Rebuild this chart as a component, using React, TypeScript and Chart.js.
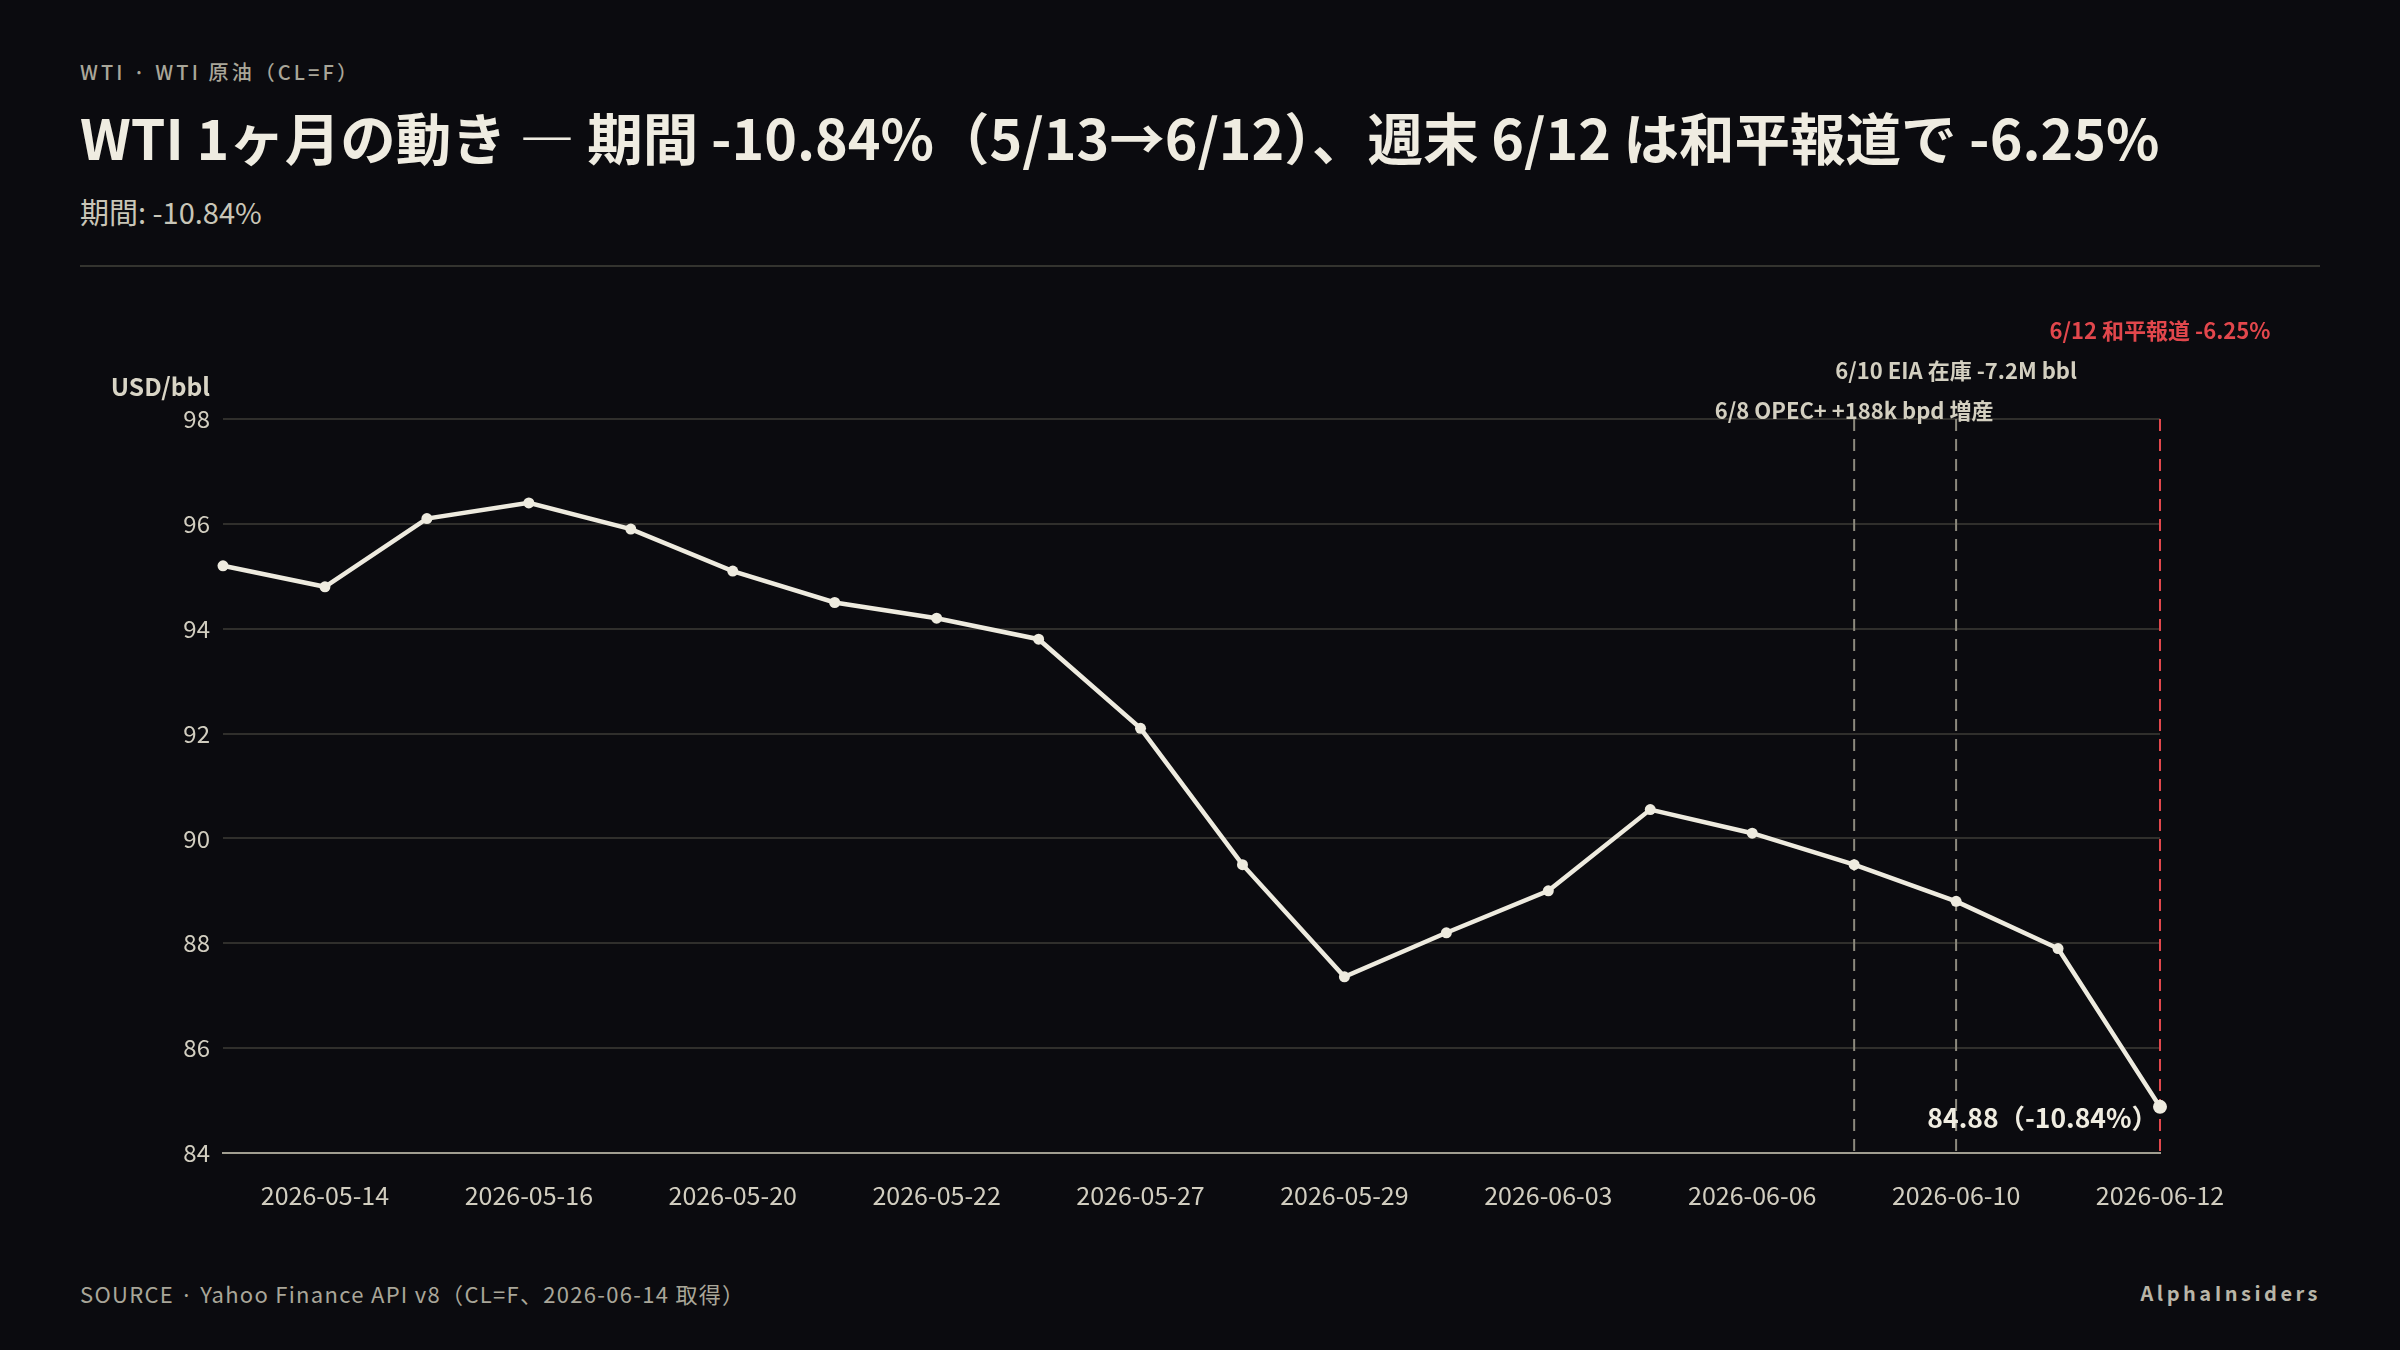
import React, { useEffect, useRef } from "react";
import { Chart, registerables } from "chart.js";

Chart.register(...registerables);

const FONT = '"Noto Sans CJK JP", "Noto Sans", sans-serif';

// dates (trading days) and WTI close, USD/bbl
const dates = [
  "2026-05-13", "2026-05-14", "2026-05-15", "2026-05-16", "2026-05-19",
  "2026-05-20", "2026-05-21", "2026-05-22", "2026-05-26", "2026-05-27",
  "2026-05-28", "2026-05-29", "2026-06-02", "2026-06-03", "2026-06-04",
  "2026-06-06", "2026-06-08", "2026-06-10", "2026-06-11", "2026-06-12",
];
const closes = [
  95.2, 94.8, 96.1, 96.4, 95.9, 95.1, 94.5, 94.2, 93.8, 92.1,
  89.5, 87.36, 88.2, 89.0, 90.55, 90.1, 89.5, 88.8, 87.9, 84.88,
];
const yTicks = [84, 86, 88, 90, 92, 94, 96, 98];

// event markers
const eventDates = ["2026-06-08", "2026-06-10", "2026-06-12"];
const eventLabels = ["6/8 OPEC+ +188k bpd 増産", "6/10 EIA 在庫 -7.2M bbl", "6/12 和平報道 -6.25%"];
const eventColors = ["#8c897d", "#8c897d", "#e2474c"];
const eventTextColors = ["#d3cfc0", "#d3cfc0", "#e2474c"];

const lastLabel = "84.88（-10.84%）";

const annotations = {
  id: "annotations",
  beforeDatasetsDraw(chart) {
    const { ctx, chartArea, scales } = chart;
    ctx.save();
    ctx.lineWidth = 2;
    ctx.setLineDash([12, 8]);
    eventDates.forEach((d, i) => {
      const x = scales.x.getPixelForValue(dates.indexOf(d));
      ctx.strokeStyle = eventColors[i];
      ctx.beginPath();
      ctx.moveTo(x, chartArea.top);
      ctx.lineTo(x, chartArea.bottom);
      ctx.stroke();
    });
    ctx.restore();
  },
  afterDatasetsDraw(chart) {
    const { ctx, chartArea, scales } = chart;
    ctx.save();
    ctx.font = `bold 22px ${FONT}`;
    ctx.textAlign = "center";
    ctx.textBaseline = "middle";
    eventDates.forEach((d, i) => {
      const x = scales.x.getPixelForValue(dates.indexOf(d));
      ctx.fillStyle = eventTextColors[i];
      ctx.fillText(eventLabels[i], x, chartArea.top - 8 - i * 40);
    });

    // unit label
    ctx.font = `bold 24.5px ${FONT}`;
    ctx.textAlign = "right";
    ctx.fillStyle = "#d9d5c6";
    ctx.fillText("USD/bbl", 210, chartArea.top - 32);

    // last value label
    const li = closes.length - 1;
    const lx = scales.x.getPixelForValue(li);
    const ly = scales.y.getPixelForValue(closes[li]);
    ctx.font = `bold 26.5px ${FONT}`;
    ctx.fillStyle = "#f0ede1";
    ctx.fillText(lastLabel, lx - 2, ly + 11);
    ctx.restore();
  },
};

const WtiChart = () => {
  const canvasRef = useRef(null);

  useEffect(() => {
    const chart = new Chart(canvasRef.current.getContext("2d"), {
      type: "line",
      data: {
        labels: dates,
        datasets: [
          {
            data: closes,
            borderColor: "#eeebdf",
            backgroundColor: "#eeebdf",
            borderWidth: 4.5,
            pointRadius: closes.map((_, i) => (i === closes.length - 1 ? 7 : 5.5)),
            pointBorderWidth: 0,
            tension: 0,
            clip: false,
          },
        ],
      },
      options: {
        animation: false,
        responsive: true,
        maintainAspectRatio: false,
        devicePixelRatio: 1,
        layout: { padding: { left: 0, right: 240, top: 119, bottom: 0 } },
        plugins: { legend: { display: false }, tooltip: { enabled: false } },
        scales: {
          x: {
            offset: false,
            grid: { display: false, drawTicks: false },
            border: { display: true, color: "#a19e91", width: 2 },
            ticks: {
              autoSkip: false,
              maxRotation: 0,
              padding: 27,
              color: "#d2cec0",
              font: { family: FONT, size: 25 },
              callback: (_v, i) => (i % 2 === 1 ? dates[i] : null),
            },
            afterFit: (s) => {
              s.height = 97;
            },
          },
          y: {
            min: yTicks[0],
            max: yTicks[yTicks.length - 1],
            afterBuildTicks: (s) => {
              s.ticks = yTicks.map((v) => ({ value: v }));
            },
            grid: { color: "#302f2c", lineWidth: 2, drawTicks: false },
            border: { display: false },
            ticks: {
              padding: 13,
              color: "#d2cec0",
              font: { family: FONT, size: 24 },
            },
            afterFit: (s) => {
              s.width = 223;
            },
          },
        },
      },
      plugins: [annotations],
    });
    return () => chart.destroy();
  }, []);

  return (
    <div style={{ position: "absolute", left: 0, top: 300, width: 2400, height: 950 }}>
      <canvas ref={canvasRef} />
    </div>
  );
};

export default function App() {
  useEffect(() => {
    document.body.style.margin = "0";
    document.body.style.background = "#0b0b0f";
  }, []);

  return (
    <div
      style={{
        position: "relative",
        width: 2400,
        height: 1350,
        background: "#0b0b0f",
        fontFamily: FONT,
        overflow: "hidden",
      }}
    >
      <div style={{ position: "absolute", left: 80, top: 57, fontSize: 20, letterSpacing: 3.1, color: "#a9a699", fontWeight: 500 }}>
        WTI · WTI 原油（CL=F）
      </div>
      <div style={{ position: "absolute", left: 80, top: 96, fontSize: 55.5, fontWeight: 700, color: "#efece1", whiteSpace: "nowrap", lineHeight: "80px" }}>
        WTI 1ヶ月の動き ― 期間 -10.84%（5/13→6/12）、週末 6/12 は和平報道で -6.25%
      </div>
      <div style={{ position: "absolute", left: 80, top: 190, fontSize: 29, color: "#c9c6b8" }}>期間: -10.84%</div>
      <div style={{ position: "absolute", left: 80, top: 265, width: 2240, height: 2, background: "#34342f" }} />
      <WtiChart />
      <div style={{ position: "absolute", left: 80, top: 1277, fontSize: 22, letterSpacing: 1.3, color: "#a9a699" }}>
        SOURCE · Yahoo Finance API v8（CL=F、2026-06-14 取得）
      </div>
      <div style={{ position: "absolute", right: 79, top: 1278, fontSize: 20, letterSpacing: 3.5, fontWeight: 700, color: "#b9b6a8" }}>
        AlphaInsiders
      </div>
    </div>
  );
}
